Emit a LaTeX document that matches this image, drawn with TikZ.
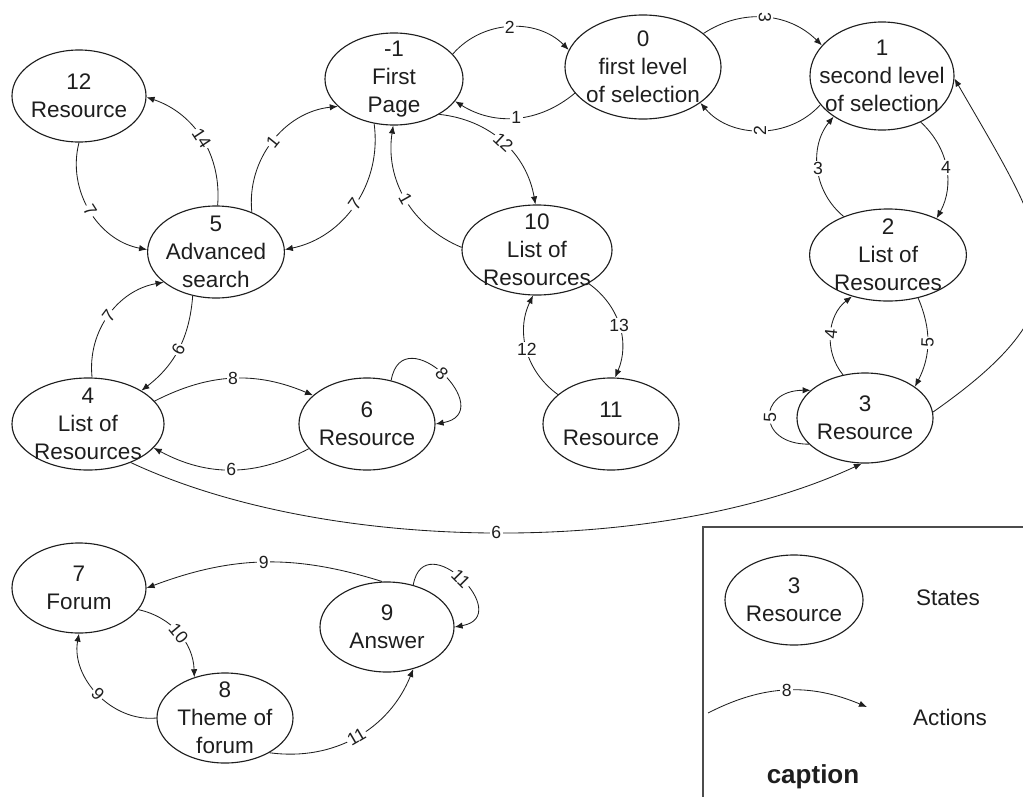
\documentclass[tikz,border=0pt]{standalone}
\usepackage{fontspec}
\setmainfont{Liberation Sans}
\usetikzlibrary{shapes,arrows.meta,positioning}
\definecolor{inkgray}{RGB}{30,30,30}

\begin{document}
\begin{tikzpicture}[x=0.025cm, y=-0.025cm, >={Latex[length=2mm,width=1.6mm]},
    state/.style={ellipse, draw=inkgray, line width=0.8pt, minimum width=3.4cm, minimum height=2.3cm, inner sep=0pt},
    stxt/.style={align=center, text=inkgray, font=\fontsize{16}{20}\selectfont},
    act/.style={fill=white, inner sep=1pt, text=inkgray, font=\fontsize{12.5}{12.5}\selectfont},
    arc/.style={->, draw=inkgray, line width=0.6pt}]
    \useasboundingbox (0,0) rectangle (1023,796);
    \node [state, minimum width=3.35cm, label={[stxt]center:12\\Resource}] (res12) at (79,96) {};
    \node [state, minimum width=3.45cm, label={[stxt]center:-1\\First\\Page}] (first) at (394,79) {};
    \node [state, minimum width=3.9cm, minimum height=2.6cm, label={[stxt]center:0\\first level\\of selection}] (lvl1) at (643,67) {};
    \node [state, minimum width=3.6cm, minimum height=2.7cm, label={[stxt]center:1\\second level\\of selection}] (lvl2) at (882,76) {};
    \node [state, minimum width=3.42cm, label={[stxt]center:5\\Advanced\\search}] (adv5) at (216,252) {};
    \node [state, minimum width=3.75cm, minimum height=2.25cm, label={[stxt]center:10\\List of\\Resources}] (list10) at (537,250) {};
    \node [state, minimum width=3.92cm, label={[stxt]center:2\\List of\\Resources}] (list2) at (888,255) {};
    \node [state, minimum width=3.8cm, label={[stxt]center:4\\List of\\Resources}] (list4) at (88,424) {};
    \node [state, label={[stxt]center:6\\Resource}] (res6) at (367,424) {};
    \node [state, label={[stxt]center:11\\Resource}] (res11) at (611,424) {};
    \node [state, minimum height=2.25cm, label={[stxt]center:3\\Resource}] (res3) at (865,418) {};
    \node [state, minimum width=3.35cm, minimum height=2.25cm, label={[stxt]center:7\\Forum}] (forum7) at (79,588) {};
    \node [state, minimum height=2.25cm, label={[stxt]center:8\\Theme of\\forum}] (theme8) at (225,718) {};
    \node [state, minimum width=3.35cm, minimum height=2.25cm, label={[stxt]center:9\\Answer}] (answer9) at (387,627) {};
    \draw[arc] (first.23) to[bend left=47] node[act]{2} (lvl1.167);
    \draw[arc] (lvl1.201) to[bend left=36] node[act]{1} (first.-20);
    \draw[arc] (lvl1.29) to[bend left=39] node[act, rotate=-90]{3} (lvl2.153);
    \draw[arc] (lvl2.205) to[bend left=49] node[act, rotate=90]{2} (lvl1.-32);
    \draw[arc] (lvl2.-50) to[bend left=38] node[act]{4} (list2.37);
    \draw[arc] (list2.139) to[bend left=45] node[act]{3} (lvl2.220);
    \draw[arc] (list2.-55) to[bend left=25] node[act, sloped]{5} (res3.32);
    \draw[arc] (res3.117) to[bend left=46] node[act, sloped]{4} (list2.229);
    \draw[arc] (res3.205) to[out=180, in=180, looseness=2.5] node[act, sloped]{5} (res3.153);
    \draw[arc] (res3.5) to[out=35, in=-60, looseness=1.5] (lvl2.-2);
    \draw[arc] (list4.-42) to[out=-25, in=-155, looseness=0.77] node[act]{6} (res3.266);
    \draw[arc] (list4.19) to[bend left=25] node[act]{8} (res6.152);
    \draw[arc] (res6.203) to[bend left=28] node[act]{6} (list4.-20);
    \draw[arc] (res6.61) to[out=80, in=10, looseness=2.7] node[act, sloped]{8} (res6.0);
    \draw[arc] (adv5.242) to[bend left=24] node[act, sloped]{6} (list4.32);
    \draw[arc] (list4.85) to[bend left=43] node[act, sloped]{7} (adv5.210);
    \draw[arc] (res12.270) to[bend right=47] node[act, sloped]{7} (adv5.178);
    \draw[arc] (adv5.88) to[bend right=38] node[act, sloped]{14} (res12.-1);
    \draw[arc] (adv5.48) to[bend left=45] node[act, sloped]{1} (first.206);
    \draw[arc] (first.246) to[bend left=43] node[act, sloped]{7} (adv5.2);
    \draw[arc] (list10.178) to[bend left=38] node[act, sloped]{1} (first.269);
    \draw[arc] (first.-38) to[bend left=37] node[act, sloped]{12} (list10.92);
    \draw[arc] (list10.-33) to[bend left=39] node[act]{13} (res11.85);
    \draw[arc] (res11.151) to[bend left=40] node[act]{12} (list10.265);
    \draw[arc] (answer9.96) to[bend right=19] node[act]{9} (forum7.0);
    \draw[arc] (forum7.-20) to[bend left=38] node[act, sloped]{10} (theme8.127);
    \draw[arc] (theme8.180) to[bend left=53] node[act, sloped]{9} (forum7.270);
    \draw[arc] (theme8.-38) to[bend right=38] node[act, sloped]{11} (answer9.-58);
    \draw[arc] (answer9.58) to[out=80, in=10, looseness=2.7] node[act, sloped]{11} (answer9.0);
    \draw[draw=black!70, line width=1pt] (703,800) -- (703,527) -- (1030,527);
    \node [state, minimum width=3.45cm, minimum height=2.25cm, label={[stxt]center:3\\Resource}] (legstate) at (794,600) {};
    \node [stxt] (states) at (948,598) {States};
    \coordinate (legfrom) at (708,713);
    \coordinate (legto) at (867,707);
    \draw[arc] (legfrom) to[bend left=25] node[act]{8} (legto);
    \node [stxt] (actions) at (950,717) {Actions};
    \node [text=inkgray, font=\bfseries\fontsize{18.5}{20}\selectfont] (caption) at (813,777) {caption};
\end{tikzpicture}
\end{document}
